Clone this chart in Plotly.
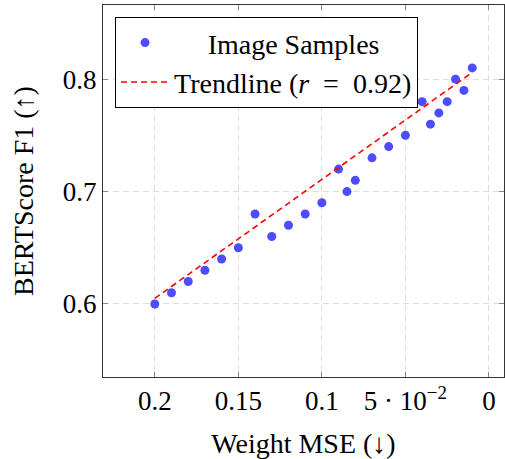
import plotly.graph_objects as go

weight_mse = [0.2, 0.19, 0.18, 0.17, 0.16, 0.15, 0.14, 0.13, 0.12, 0.11, 0.10, 0.09,
              0.085, 0.08, 0.07, 0.06, 0.05, 0.04, 0.035, 0.03, 0.025, 0.02, 0.015, 0.01]
bertscore = [0.60, 0.61, 0.62, 0.63, 0.64, 0.65, 0.68, 0.66, 0.67, 0.68, 0.69, 0.72,
             0.70, 0.71, 0.73, 0.74, 0.75, 0.78, 0.76, 0.77, 0.78, 0.80, 0.79, 0.81]
trend_x = [0.2, 0.01]
trend_y = [0.605, 0.806]
x_tickvals = [0.2, 0.15, 0.1, 0.05, 0]
x_ticktext = ["0.2", "0.15", "0.1", "5 · 10<sup>−2</sup>", "0"]
y_tickvals = [0.6, 0.7, 0.8]
y_ticktext = ["0.6", "0.7", "0.8"]

font = "Liberation Serif"

fig = go.Figure()
fig.add_trace(go.Scatter(
    x=weight_mse, y=bertscore, mode="markers", name="\u2003\u2009Image Samples",
    marker=dict(color="#4d4dff", size=9, line=dict(width=0)),
))
fig.add_trace(go.Scatter(
    x=trend_x, y=trend_y, mode="lines", name="Trendline (<i>r</i>\u2002=\u20020.92)",
    line=dict(color="#ff0000", width=1.6, dash="6px,4px"),
))

axis_common = dict(
    showline=True, linecolor="#333333", linewidth=1, mirror="ticks",
    ticks="inside", ticklen=5, tickcolor="#888888",
    showgrid=True, gridcolor="#dddddd", griddash="6px,4px", gridwidth=1,
    zeroline=False, tickfont=dict(family=font, size=27, color="black"),
    automargin=False,
)

fig.update_layout(
    width=505, height=459,
    margin=dict(l=103, r=1, t=5, b=82),
    plot_bgcolor="white", paper_bgcolor="white",
    font=dict(family=font, color="black"),
    showlegend=True,
    legend=dict(
        x=0.03, y=0.968, xanchor="left", yanchor="top",
        bordercolor="black", borderwidth=1, bgcolor="white",
        font=dict(family=font, size=28, color="black"),
        itemwidth=48, tracegroupgap=0,
    ),
    xaxis=dict(
        range=[0.231, -0.009], tickvals=x_tickvals, ticktext=x_ticktext,
        title=dict(text="Weight MSE (↓)", font=dict(family=font, size=28), standoff=18),
        **axis_common,
    ),
    yaxis=dict(
        range=[0.535, 0.866], tickvals=y_tickvals, ticktext=y_ticktext,
        title=dict(text="BERTScore F1 (↑)", font=dict(family=font, size=28), standoff=21),
        **axis_common,
    ),
)

fig.write_html("out.html", config={"displayModeBar": False},
               post_script="document.body.style.margin='0';document.body.style.overflow='hidden';")
